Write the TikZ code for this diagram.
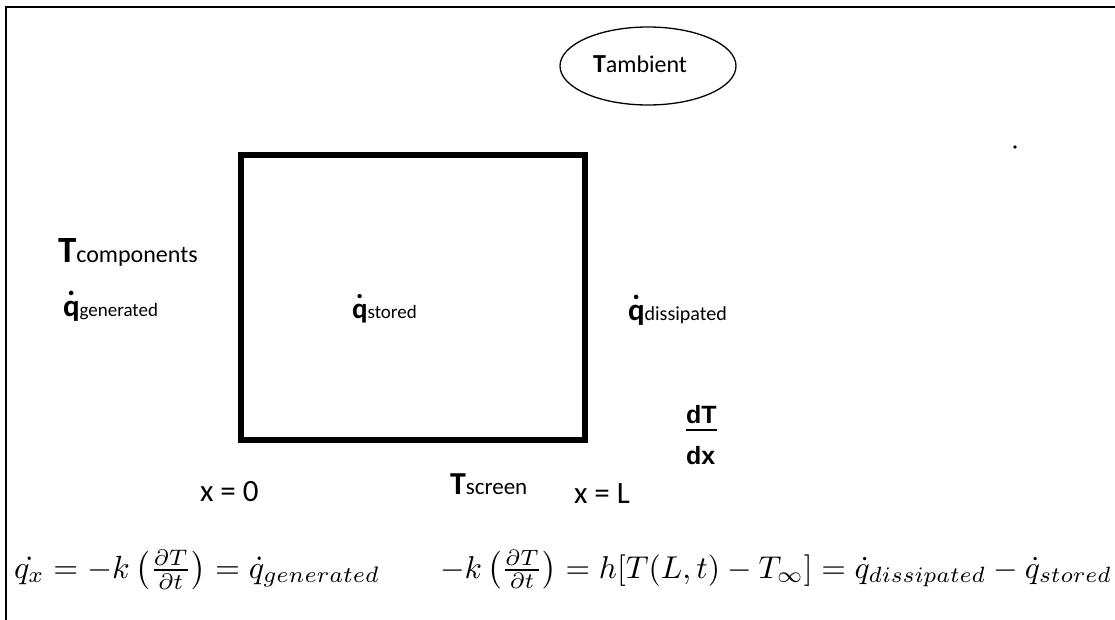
\documentclass[tikz,border=0pt]{standalone}
\usepackage{fontspec}
\setmainfont{Carlito}
\newfontfamily\arialfont{Liberation Sans}
\usepackage{amsmath}
\usetikzlibrary{shapes.geometric}
\newcommand{\fs}[1]{\fontsize{#1}{#1}\selectfont}
\newcommand{\qdotted}{\ooalign{q\cr\hidewidth\raisebox{0.66em}{.}\hidewidth\cr}}
\begin{document}
\begin{tikzpicture}[x=1pt,y=-1pt,
  lbl/.style={anchor=base west,inner sep=0pt,outer sep=0pt},
  frameline/.style={line width=2pt,black},
  wall/.style={line width=6pt,black}]
\useasboundingbox (0,0) rectangle (1115,620);
% outer frame (top and left only)
\draw[frameline] (1115,7) -- (6,7) -- (6,620);
% the box
\draw[wall] (241,155) rectangle (585,440);
% ambient ellipse
\node[draw,line width=1.3pt,ellipse,minimum width=176pt,minimum height=78pt,inner sep=0pt] (amb) at (648,66) {};
\node[lbl] (tamb) at (593,73) {{\fs{26}\bfseries T}{\fs{24}ambient}};
% labels
\node[lbl] (tcomp) at (58,262) {{\fs{37}\bfseries T}{\fs{24}components}};
\node[lbl] (qgen) at (63,316) {{\fs{31}\bfseries \qdotted}{\fs{19}generated}};
\node[lbl] (qsto) at (352,318) {{\fs{29}\bfseries \qdotted}{\fs{19}stored}};
\node[lbl] (qdis) at (628,320) {{\fs{31}\bfseries \qdotted}{\fs{20}dissipated}};
\node[lbl] (x0) at (200,501) {\fs{31}x = 0};
\node[lbl] (tscr) at (450,494) {{\fs{32}\bfseries T}{\fs{23}screen}};
\node[lbl] (xL) at (574,503) {\fs{31}x = L};
% dT/dx
\node[lbl] (dT) at (686,423) {\arialfont\fs{25}\bfseries dT};
\draw[line width=2pt] (686,430) -- (dT.base east |- 0,430) coordinate (fracend);
\node[lbl] (dx) at (686,464) {\arialfont\fs{25}\bfseries dx};
% stray dot
\fill (1015,147) circle (1.8pt);
% equations
\node[lbl] (eq1) at (14,578) {\resizebox{366pt}{!}{$\dot{q_x} = -k\left(\frac{\partial T}{\partial t}\right) = \dot{q}_{generated}$}};
\node[lbl] (eq2) at (440,578) {\resizebox{672pt}{!}{$-k\left(\frac{\partial T}{\partial t}\right) = h[T(L,t) - T_\infty] = \dot{q}_{dissipated} - \dot{q}_{stored}$}};
\end{tikzpicture}
\end{document}
